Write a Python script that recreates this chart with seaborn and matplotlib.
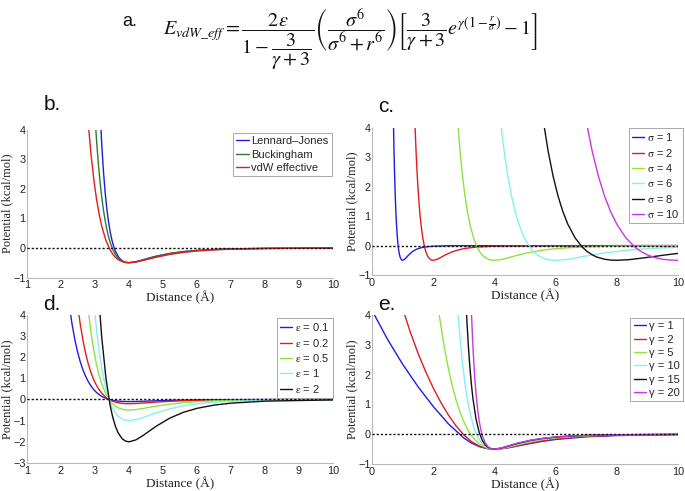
import matplotlib
matplotlib.use("Agg")
import matplotlib.pyplot as plt
import seaborn as sns

# ---------------- data ----------------
# panel b
r_lj = [3.1, 3.15, 3.2, 3.25, 3.3, 3.35, 3.4, 3.45, 3.5, 3.55, 3.6, 3.7, 3.8, 3.9, 4.0,
        4.2, 4.4, 4.6, 4.8, 5.2, 5.6, 6.0, 6.5, 7.0, 8.0, 10.0]
v_lj = [6.035, 4.597, 3.461, 2.565, 1.858, 1.301, 0.864, 0.521, 0.254, 0.048, -0.111,
        -0.322, -0.435, -0.487, -0.500, -0.468, -0.405, -0.339, -0.279, -0.186, -0.124,
        -0.084, -0.053, -0.034, -0.016, -0.004]
r_bk = [2.95, 3.0, 3.05, 3.1, 3.15, 3.2, 3.25, 3.3, 3.35, 3.4, 3.45, 3.5, 3.55, 3.6, 3.7,
        3.8, 3.9, 4.0, 4.2, 4.4, 4.6, 4.8, 5.2, 5.6, 6.0, 6.5, 7.0, 8.0, 10.0]
v_bk = [5.453, 4.424, 3.556, 2.825, 2.211, 1.697, 1.268, 0.912, 0.616, 0.373, 0.174,
        0.013, -0.118, -0.222, -0.367, -0.449, -0.489, -0.500, -0.472, -0.414, -0.350,
        -0.290, -0.194, -0.129, -0.087, -0.054, -0.035, -0.016, -0.004]
r_vdw = [2.72, 2.8, 2.88, 2.96, 3.04, 3.12, 3.2, 3.32, 3.44, 3.52, 3.6, 3.68, 3.8, 3.9,
         4.0, 4.2, 4.4, 4.6, 4.8, 5.2, 5.6, 6.0, 6.5, 7.0, 8.0, 10.0]
v_vdw = [5.515, 4.228, 3.189, 2.353, 1.683, 1.149, 0.726, 0.258, -0.059, -0.208, -0.316,
         -0.394, -0.464, -0.492, -0.500, -0.478, -0.429, -0.372, -0.316, -0.221, -0.152,
         -0.105, -0.067, -0.044, -0.020, -0.005]
labels_b = ["Lennard\u2013Jones", "Buckingham", "vdW effective"]

# panel c (sigma series)
r_s1 = [0.68, 0.70, 0.72, 0.74, 0.76, 0.78, 0.80, 0.83, 0.86, 0.88, 0.90, 0.92, 0.95, 0.975,
        1.0, 1.05, 1.1, 1.15, 1.2, 1.3, 1.4, 1.5, 1.625, 1.75, 2.0, 2.5, 10.0]
v_s1 = [5.515, 4.228, 3.189, 2.353, 1.683, 1.149, 0.726, 0.258, -0.059, -0.208, -0.316,
        -0.394, -0.464, -0.492, -0.500, -0.478, -0.429, -0.372, -0.316, -0.221, -0.152,
        -0.105, -0.067, -0.044, -0.020, -0.005, 0.0]
r_s2 = [1.36, 1.4, 1.44, 1.48, 1.52, 1.56, 1.6, 1.66, 1.72, 1.76, 1.8, 1.84, 1.9, 1.95,
        2.0, 2.1, 2.2, 2.3, 2.4, 2.6, 2.8, 3.0, 3.25, 3.5, 4.0, 5.0, 10.0]
v_s2 = [5.515, 4.228, 3.189, 2.353, 1.683, 1.149, 0.726, 0.258, -0.059, -0.208, -0.316,
        -0.394, -0.464, -0.492, -0.500, -0.478, -0.429, -0.372, -0.316, -0.221, -0.152,
        -0.105, -0.067, -0.044, -0.020, -0.005, 0.0]
r_s4 = [2.72, 2.8, 2.88, 2.96, 3.04, 3.12, 3.2, 3.32, 3.44, 3.52, 3.6, 3.68, 3.8, 3.9,
        4.0, 4.2, 4.4, 4.6, 4.8, 5.2, 5.6, 6.0, 6.5, 7.0, 8.0, 10.0]
v_s4 = [5.515, 4.228, 3.189, 2.353, 1.683, 1.149, 0.726, 0.258, -0.059, -0.208, -0.316,
        -0.394, -0.464, -0.492, -0.500, -0.478, -0.429, -0.372, -0.316, -0.221, -0.152,
        -0.105, -0.067, -0.044, -0.020, -0.005]
r_s6 = [4.08, 4.2, 4.32, 4.44, 4.56, 4.68, 4.8, 4.98, 5.16, 5.28, 5.4, 5.52, 5.7, 5.85,
        6.0, 6.3, 6.6, 6.9, 7.2, 7.8, 8.4, 9.0, 9.75, 10.0]
v_s6 = [5.515, 4.228, 3.189, 2.353, 1.683, 1.149, 0.726, 0.258, -0.059, -0.208, -0.316,
        -0.394, -0.464, -0.492, -0.500, -0.478, -0.429, -0.372, -0.316, -0.221, -0.152,
        -0.105, -0.067, -0.058]
r_s8 = [5.44, 5.6, 5.76, 5.92, 6.08, 6.24, 6.4, 6.64, 6.88, 7.04, 7.2, 7.36, 7.6, 7.8,
        8.0, 8.4, 8.8, 9.2, 9.6, 10.0]
v_s8 = [5.515, 4.228, 3.189, 2.353, 1.683, 1.149, 0.726, 0.258, -0.059, -0.208, -0.316,
        -0.394, -0.464, -0.492, -0.500, -0.478, -0.429, -0.372, -0.316, -0.265]
r_s10 = [6.8, 7.0, 7.2, 7.4, 7.6, 7.8, 8.0, 8.3, 8.6, 8.8, 9.0, 9.2, 9.5, 9.75, 10.0]
v_s10 = [5.515, 4.228, 3.189, 2.353, 1.683, 1.149, 0.726, 0.258, -0.059, -0.208, -0.316,
         -0.394, -0.464, -0.492, -0.500]
labels_c = [r"$\mathrm{\sigma}$ = 1", r"$\mathrm{\sigma}$ = 2", r"$\mathrm{\sigma}$ = 4",
            r"$\mathrm{\sigma}$ = 6", r"$\mathrm{\sigma}$ = 8", r"$\mathrm{\sigma}$ = 10"]

# panel d (epsilon series)
r_d = [2.24, 2.32, 2.4, 2.48, 2.56, 2.64, 2.72, 2.8, 2.88, 2.96, 3.04, 3.12, 3.2, 3.32,
       3.44, 3.52, 3.6, 3.68, 3.8, 3.9, 4.0, 4.2, 4.4, 4.6, 4.8, 5.2, 5.6, 6.0, 6.5, 7.0,
       8.0, 10.0]
v_e01 = [4.489, 3.604, 2.882, 2.292, 1.811, 1.420, 1.103, 0.846, 0.638, 0.471, 0.337,
         0.230, 0.145, 0.052, -0.012, -0.042, -0.063, -0.079, -0.093, -0.098, -0.100,
         -0.096, -0.086, -0.074, -0.063, -0.044, -0.030, -0.021, -0.013, -0.009, -0.004,
         -0.001]
v_e02 = [4.584, 3.623, 2.841, 2.206, 1.691, 1.276, 0.941, 0.673, 0.459, 0.291, 0.103,
         -0.024, -0.083, -0.127, -0.157, -0.186, -0.197, -0.200, -0.191, -0.172, -0.149,
         -0.126, -0.088, -0.061, -0.042, -0.027, -0.018, -0.008, -0.002]
v_e05 = [5.515, 4.228, 3.189, 2.353, 1.683, 1.149, 0.726, 0.258, -0.059, -0.208, -0.316,
         -0.394, -0.464, -0.492, -0.500, -0.478, -0.429, -0.372, -0.316, -0.221, -0.152,
         -0.105, -0.067, -0.044, -0.020, -0.005]
v_e1 = [6.378, 4.706, 3.365, 2.298, 1.453, 0.516, -0.119, -0.415, -0.633, -0.787, -0.928,
        -0.984, -1.000, -0.956, -0.859, -0.744, -0.632, -0.441, -0.304, -0.210, -0.134,
        -0.088, -0.040, -0.011]
v_e2 = [9.411, 6.731, 4.595, 2.905, 1.031, -0.238, -0.830, -1.266, -1.575, -1.857, -1.968,
        -2.000, -1.911, -1.717, -1.489, -1.264, -0.882, -0.607, -0.419, -0.268, -0.175,
        -0.080, -0.021]
labels_d = [r"$\mathrm{\varepsilon}$ = 0.1", r"$\mathrm{\varepsilon}$ = 0.2",
            r"$\mathrm{\varepsilon}$ = 0.5", r"$\mathrm{\varepsilon}$ = 1",
            r"$\mathrm{\varepsilon}$ = 2"]

# panel e (gamma series)
r_g1 = [0, 0.5, 1, 1.5, 2, 2.5, 3, 3.25, 3.5, 3.75, 4, 4.25, 4.5, 5, 5.5, 6, 7, 8, 10]
v_g1 = [4.155, 3.197, 2.350, 1.600, 0.932, 0.344, -0.126, -0.296, -0.415, -0.480, -0.500,
        -0.485, -0.447, -0.346, -0.250, -0.176, -0.087, -0.045, -0.014]
r_g2 = [0.5, 1, 1.25, 1.5, 1.75, 2, 2.25, 2.5, 2.75, 3, 3.25, 3.5, 3.75, 4, 4.25, 4.5, 5,
        5.5, 6, 7, 8, 10]
v_g2 = [6.132, 4.222, 3.429, 2.728, 2.106, 1.553, 1.065, 0.638, 0.274, -0.023, -0.247,
        -0.396, -0.477, -0.500, -0.482, -0.440, -0.330, -0.231, -0.157, -0.073, -0.035,
        -0.010]
r_g5 = [2.1, 2.2, 2.25, 2.375, 2.5, 2.625, 2.75, 2.875, 3, 3.125, 3.25, 3.5, 3.75, 4,
        4.25, 4.5, 5, 5.5, 6, 7, 8, 10]
v_g5 = [4.751, 3.983, 3.633, 2.849, 2.182, 1.617, 1.142, 0.746, 0.420, 0.156, -0.053,
        -0.331, -0.465, -0.500, -0.476, -0.422, -0.297, -0.194, -0.125, -0.053, -0.025,
        -0.007]
r_g10 = [2.72, 2.8, 2.88, 2.96, 3.04, 3.12, 3.2, 3.32, 3.44, 3.52, 3.6, 3.68, 3.8, 3.9,
         4.0, 4.2, 4.4, 4.6, 4.8, 5.2, 5.6, 6.0, 6.5, 7.0, 8.0, 10.0]
v_g10 = [5.515, 4.228, 3.189, 2.353, 1.683, 1.149, 0.726, 0.258, -0.059, -0.208, -0.316,
         -0.394, -0.464, -0.492, -0.500, -0.478, -0.429, -0.372, -0.316, -0.221, -0.152,
         -0.105, -0.067, -0.044, -0.020, -0.005]
r_g15 = [3.0, 3.05, 3.1, 3.15, 3.2, 3.25, 3.3, 3.4, 3.5, 3.6, 3.7, 3.8, 3.9, 4.0, 4.2, 4.4,
         4.6, 4.8, 5.2, 5.6, 6.0, 6.5, 7.0, 8.0, 10.0]
v_g15 = [6.200, 4.889, 3.818, 2.944, 2.232, 1.654, 1.187, 0.507, 0.072, -0.198, -0.359,
         -0.448, -0.489, -0.500, -0.472, -0.417, -0.356, -0.299, -0.206, -0.141, -0.097,
         -0.062, -0.040, -0.019, -0.005]
r_g20 = [3.2, 3.25, 3.3, 3.35, 3.4, 3.45, 3.5, 3.55, 3.6, 3.7, 3.8, 3.9, 4.0, 4.2, 4.4,
         4.6, 4.8, 5.2, 5.6, 6.0, 6.5, 7.0, 8.0, 10.0]
v_g20 = [5.578, 4.060, 2.902, 2.021, 1.353, 0.848, 0.468, 0.184, -0.027, -0.294, -0.428,
         -0.486, -0.500, -0.468, -0.408, -0.345, -0.288, -0.197, -0.135, -0.093, -0.059,
         -0.039, -0.018, -0.005]
labels_e = ["\u03b3 = 1", "\u03b3 = 2", "\u03b3 = 5", "\u03b3 = 10", "\u03b3 = 15", "\u03b3 = 20"]

# ---------------- styling ----------------
BLUE, RED, DGREEN = "#1c1ce8", "#e41a1c", "#2b7d2b"
LIME, CYAN, BLACK, MAG = "#8de43e", "#84f0f0", "#111111", "#c936e6"

sns.set_theme(style="white")
plt.rcParams["font.family"] = ["Liberation Sans", "DejaVu Sans"]
plt.rcParams["mathtext.fontset"] = "stix"

W, H = 685, 491
fig = plt.figure(figsize=(W / 100, H / 100), dpi=100)


def axes_px(x0, y_top, x1, y_bot):
    return fig.add_axes([x0 / W, 1 - y_bot / H, (x1 - x0) / W, (y_bot - y_top) / H])


ax_b = axes_px(27, 129.5, 333, 277.5)
ax_c = axes_px(372, 128, 678, 275)
ax_d = axes_px(27, 314.7, 333, 463)
ax_e = axes_px(372, 315, 678, 464)


def draw(ax, curves):
    for r, v, c, lab in curves:
        sns.lineplot(x=r, y=v, color=c, label=lab, ax=ax, sort=False,
                     estimator=None, linewidth=1.0)


def style(ax, xlim, xticks, ylim, yticks, anchor):
    ax.set_xlim(xlim)
    ax.set_ylim(ylim)
    ax.set_xticks(xticks)
    ax.set_yticks(yticks)
    for s in ["top", "right"]:
        ax.spines[s].set_visible(False)
    for s in ["left", "bottom"]:
        ax.spines[s].set_color("#b8b8b8")
        ax.spines[s].set_linewidth(0.8)
    ax.tick_params(direction="in", length=3, width=0.6, color="#b8b8b8",
                   labelsize=7.8, labelcolor="#222222", pad=2)
    ax.tick_params(axis="y", pad=1.0)
    ax.set_xlabel("Distance (\u00c5)", family=["Liberation Serif"], fontsize=9.5,
                  labelpad=0.5, color="#222222")
    ax.set_ylabel("Potential (kcal/mol)", family=["Liberation Serif"], fontsize=9,
                  color="#222222")
    ax.yaxis.set_label_coords(-0.045, 0.5)
    ax.axhline(0, color="#111111", lw=1.0, ls=(0, (1.6, 1.4)), zorder=3)
    leg = ax.legend(loc="upper right", bbox_to_anchor=anchor, fontsize=8, frameon=True,
                    fancybox=False, edgecolor="#9a9a9a", framealpha=1,
                    handlelength=1.1, handletextpad=0.25, borderpad=0.3,
                    labelspacing=0.3, borderaxespad=0)
    leg.get_frame().set_linewidth(0.6)


draw(ax_b, [(r_lj, v_lj, BLUE, labels_b[0]), (r_bk, v_bk, DGREEN, labels_b[1]),
            (r_vdw, v_vdw, RED, labels_b[2])])
style(ax_b, (1, 10), range(1, 11), (-1, 4), range(-1, 5), (0.997, 0.976))

draw(ax_c, [(r_s1, v_s1, BLUE, labels_c[0]), (r_s2, v_s2, RED, labels_c[1]),
            (r_s4, v_s4, LIME, labels_c[2]), (r_s6, v_s6, CYAN, labels_c[3]),
            (r_s8, v_s8, BLACK, labels_c[4]), (r_s10, v_s10, MAG, labels_c[5])])
style(ax_c, (0, 10), range(0, 11, 2), (-1, 4), range(-1, 5), (1.016, 1.0))

draw(ax_d, [(r_d, v_e01, BLUE, labels_d[0]), (r_d[-len(v_e02):], v_e02, RED, labels_d[1]),
            (r_d[-len(v_e05):], v_e05, LIME, labels_d[2]),
            (r_d[-len(v_e1):], v_e1, CYAN, labels_d[3]),
            (r_d[-len(v_e2):], v_e2, BLACK, labels_d[4])])
style(ax_d, (1, 10), range(1, 11), (-3, 4), range(-3, 5), (1.0, 0.978))

draw(ax_e, [(r_g1, v_g1, BLUE, labels_e[0]), (r_g2, v_g2, RED, labels_e[1]),
            (r_g5, v_g5, LIME, labels_e[2]), (r_g10, v_g10, CYAN, labels_e[3]),
            (r_g15, v_g15, BLACK, labels_e[4]), (r_g20, v_g20, MAG, labels_e[5])])
style(ax_e, (0, 10), range(0, 11, 2), (-1, 4), range(-1, 5), (1.016, 0.98))

# panel letters
for txt, x, y in [("b.", 52, 105), ("c.", 386, 107), ("d.", 52, 305), ("e.", 387, 305)]:
    fig.text(x / W, 1 - y / H, txt, fontsize=15, ha="center", va="center", color="#111111")
fig.text(130 / W, 1 - 22 / H, "a.", fontsize=13, ha="center", va="center", color="#111111")

eq = (r"$E_{vdW\_eff} = \dfrac{2\varepsilon}{1-\dfrac{3}{\gamma+3}}"
      r"\left(\dfrac{\sigma^6}{\sigma^6+r^6}\right)"
      r"\left[\dfrac{3}{\gamma+3}e^{\gamma\left(1-\frac{r}{\sigma}\right)}-1\right]$")
fig.text(350 / W, 1 - 7 / H, eq, fontsize=14.5, ha="center", va="top", color="#111111")

fig.savefig("out.png", dpi=100)
